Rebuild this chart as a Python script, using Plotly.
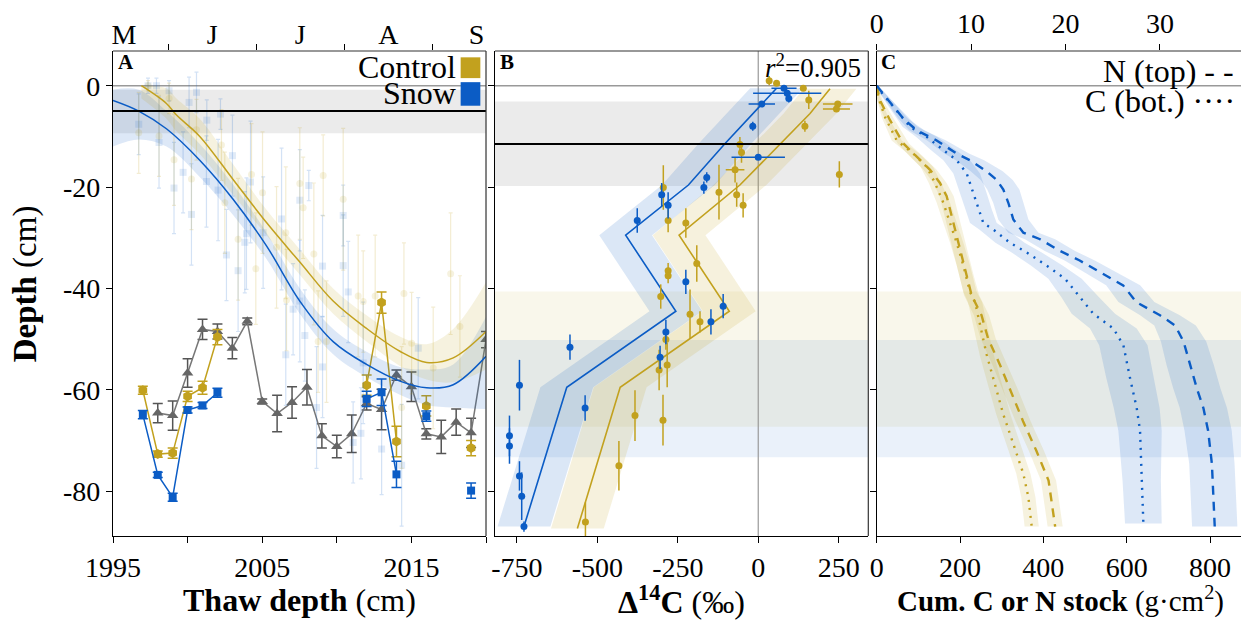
import plotly.graph_objects as go

# ---------------- colours ----------------
GOLD = "#C2A11E"
BLUE = "#0B5CC5"
GREY = "#666666"
FONT = "Liberation Serif"

# ---------------- Panel A : thaw depth time series (bottom axis, years) ----------------
ref_years = [1998, 1999, 2000, 2001, 2002, 2003, 2004, 2005, 2006, 2007, 2008, 2009,
             2010, 2011, 2012, 2013, 2014, 2015, 2016, 2017, 2018, 2019, 2020]
ref_depth = [-64.6, -65.1, -56.7, -48.1, -48.5, -51.8, -46.5, -62.3, -64.7, -62.5, -59.5, -69.1,
             -71.2, -68.7, -62.7, -63.9, -57.1, -59.4, -68.7, -69.3, -66.4, -68.5, -50.1]
ref_err = [1.9, 2.9, 2.8, 2.0, 1.5, 2.1, 0.65, 0.5, 3.6, 3.1, 3.5, 2.4,
           2.2, 3.7, 1.3, 4.0, 1.0, 2.9, 1.0, 3.3, 2.6, 2.9, 1.6]

ts_years = [1997, 1998, 1999, 2000, 2001, 2002, 2012, 2013, 2014, 2016, 2019]
ts_segment = [0, 0, 0, 0, 0, 0, 1, 1, 1, 2, 3]
ctrl_depth = [-60.1, -72.7, -72.5, -61.3, -59.6, -49.6, -59.1, -42.8, -70.2, -63.2, -71.5]
ctrl_err = [0.8, 0.6, 1.0, 1.0, 1.3, 1.5, 2.0, 2.1, 3.0, 2.0, 1.5]
snow_depth = [-64.9, -76.8, -81.2, -64.0, -63.1, -60.6, -61.8, -60.5, -76.7, -65.2, -79.9]
snow_err = [0.8, 0.5, 0.8, 0.6, 0.6, 0.9, 1.5, 2.6, 2.6, 1.0, 1.5]

# ---------------- Panel A : seasonal thaw (top axis, month number) ----------------
month_ticks = [6, 7, 8, 9]
month_label_pos = [5.5, 6.5, 7.5, 8.5, 9.5]
month_labels = ["M", "J", "J", "A", "S"]

ctrl_fit_month = [5.698, 5.982, 6.096, 6.360, 6.738, 7.117, 7.495, 7.873, 8.252, 8.630, 8.933, 9.235, 9.607]
ctrl_fit_depth = [0, -3.5, -5.8, -10.0, -18.5, -27.0, -34.8, -42.5, -47.9, -52.4, -54.6, -53.7, -48.5]
ctrl_fit_upper = [0, -0.5, -2.5, -6.5, -15.5, -24.5, -32.3, -40.0, -45.3, -49.5, -51.0, -48.0, -38.8]
ctrl_fit_lower = [-2.5, -6.5, -9.0, -13.5, -21.5, -29.5, -37.3, -45.0, -50.5, -55.3, -58.0, -58.5, -56.0]

snow_fit_month = [5.376, 5.668, 5.982, 6.360, 6.738, 7.117, 7.495, 7.873, 8.252, 8.630, 8.933, 9.235, 9.607]
snow_fit_depth = [-2.9, -5.0, -8.5, -14.7, -22.4, -31.6, -42.5, -50.5, -55.0, -58.3, -59.6, -59.0, -53.4]
snow_fit_upper = [-0.8, -0.8, -5.0, -11.5, -19.5, -29.0, -40.0, -48.0, -52.5, -55.5, -56.0, -55.0, -45.6]
snow_fit_lower = [-12.0, -10.6, -12.0, -18.0, -25.5, -34.2, -45.0, -53.0, -57.5, -61.0, -63.0, -63.5, -63.8]

snow_obs_month = [5.668, 5.773, 5.869, 5.898, 6.012, 6.068, 6.171, 6.239, 6.266, 6.323, 6.436, 6.44,
                  6.568, 6.595, 6.663, 6.731, 6.795, 6.871, 6.890, 6.936, 7.079, 7.288, 7.336, 7.419,
                  7.495, 7.495, 7.552, 7.597, 7.685, 7.753, 7.753, 7.987, 7.987, 8.044, 8.100, 8.188,
                  8.214, 8.423, 8.650, 8.838]
snow_obs_depth = [-7.6, 0, 0, -11.2, -1.0, -20.2, -17.1, -3.3, -25.4, -1.3, -18.9, -6.8,
                  -20.6, -5.6, -33.4, -13.8, -36.5, -30.9, -29.2, -19.0, -29.0, -26.3, -53.1, -44.1,
                  -22.6, -42.5, -49.3, -19.7, -63.5, -35.6, -55.5, -25.6, -35.5, -40.7, -70.4, -68.6,
                  -54.7, -71.7, -74.9, -51.8]
snow_obs_err = [6, 1.5, 1.5, 9, 2, 9, 8, 5, 10, 4, 9, 4,
                10, 3, 9, 8, 12, 10, 11, 12, 11, 14, 10, 9,
                10, 12, 9, 3, 12, 10, 10, 6, 10, 10, 8, 9,
                12, 9, 12, 10]

ctrl_obs_month = [5.668, 5.773, 5.898, 6.012, 6.068, 6.266, 6.323, 6.606, 6.644, 6.795, 6.947, 6.996,
                  7.072, 7.231, 7.336, 7.344, 7.495, 7.533, 7.654, 7.703, 7.760, 7.798, 7.987, 8.157,
                  8.214, 8.350, 8.650, 8.676, 8.763, 9.008, 9.206, 9.311]
ctrl_obs_depth = [-9.3, 0, -9.9, -2.5, -14.6, -18.4, -8.7, -11.7, -23.1, -30.3, -17.5, -36.1,
                  -21.1, -31.9, -29.0, -42.3, -19.3, -24.1, -33.2, -50.5, -17.7, -50.5, -22.4, -41.5,
                  -42.6, -41.5, -63.5, -41.0, -50.8, -55.7, -37.1, -47.5]
ctrl_obs_err = [8, 1, 8, 3, 9, 10, 6, 7, 10, 12, 10, 11,
                12, 12, 13, 10, 11, 10, 14, 10, 8, 12, 14, 12,
                10, 12, 12, 10, 10, 12, 12, 10]

# ---------------- Panel B : radiocarbon ----------------
b_snow_d14c = [80, 90, 95, 11, -17, 0, -160, -169, -300, -280, -376, -225,
               -109, -147, -287, -305, -585, -538, -742, -773, -773, -742, -735, -728]
b_snow_depth = [-0.5, -1.5, -2.5, -3.6, -8.0, -14.1, -18.1, -20.1, -21.5, -23.6, -26.6, -38.7,
                -43.5, -46.6, -48.6, -53.6, -51.6, -63.6, -59.1, -69.1, -71.1, -77.0, -81.0, -87.0]
b_snow_xerr = [39, 106, 0, 41, 0, 83, 0, 0, 0, 0, 0, 0,
               0, 0, 0, 0, 0, 0, 0, 0, 0, 0, 0, 0]
b_snow_yerr = [0.3, 0.3, 0.8, 0.3, 0.9, 0.5, 1.0, 1.2, 2.3, 2.6, 2.4, 2.4,
               2.4, 2.5, 2.4, 2.3, 2.5, 2.5, 5.0, 4.0, 3.5, 2.9, 4.7, 1.0]

b_ctrl_d14c = [34, 57, 140, 157, 247, 243, 145, -57, -52, -72, 252, -122, -67, -47, -295,
               -280, -225, -191, -280, -280, -303, -212, -181, -287, -283, -308, -383, -296, -433, -537]
b_ctrl_depth = [1.0, 0.5, -0.5, -2.8, -3.6, -4.6, -8.0, -11.6, -13.2, -16.6, -17.5, -21.0, -21.5, -23.6, -20.1,
                -26.6, -27.1, -35.1, -36.5, -37.5, -41.6, -45.1, -46.6, -50.1, -55.1, -56.1, -65.1, -66.0, -75.0, -86.1]
b_ctrl_xerr = [0, 0, 0, 0, 46, 42, 0, 0, 0, 29, 0, 0, 0, 0, 0,
               0, 0, 0, 0, 0, 0, 0, 0, 0, 0, 0, 0, 0, 0, 0]
b_ctrl_yerr = [0.9, 0.5, 0.5, 1.8, 0.3, 0.3, 1.1, 1.5, 2.0, 2.5, 2.6, 5.4, 2.4, 2.4, 4.4,
               2.3, 2.9, 3.6, 1.5, 1.5, 2.4, 4.9, 2.1, 2.0, 4.4, 4.0, 5.0, 5.0, 4.9, 3.9]

b_snow_fit_d14c = [57, -103, -217, -412, -256, -595, -728]
b_snow_fit_depth = [-0.5, -11.4, -19.6, -29.5, -44.5, -59.5, -87.0]
b_ctrl_fit_d14c = [223, 161, -57, -246, -90, -429, -562]
b_ctrl_fit_depth = [-0.6, -5.5, -19.6, -29.5, -44.5, -59.5, -87.4]
b_fit_halfwidth = 82
r2_text = "<i>r</i><sup>2</sup>=0.905"

# ---------------- Panel C : cumulative stocks ----------------
c_snow_depth = [0, -1, -8.1, -10.1, -12.7, -14.7, -17.3, -21.2, -24.4, -27.1, -28.4, -31.0,
                -32.9, -35.5, -38.1, -41.7, -45.0, -47.9, -51.2, -57.7, -63.6, -68.1, -77.9, -86.4]
c_snow = [0, 8, 80, 120, 160, 192, 216, 232, 244, 256, 280, 320,
          360, 408, 452, 488, 520, 568, 592, 608, 624, 632, 636, 640]
c_snow_hw = [2, 5, 18, 25, 30, 32, 32, 32, 32, 32, 33, 35,
             36, 38, 40, 45, 52, 56, 58, 57, 55, 52, 46, 44]

c_ctrl_depth = [0, -2.3, -6.2, -10.8, -13.4, -16.0, -19.2, -23.1, -27.1, -31.0, -35.5,
                -40.7, -42.7, -47.3, -53.1, -59.0, -64.9, -70.7, -76.6, -81.2, -87.0]
c_ctrl = [0, 4, 20, 48, 88, 120, 140, 160, 176, 192, 208,
          224, 236, 248, 264, 284, 304, 328, 352, 364, 372]
c_ctrl_hw = [2, 4, 8, 12, 14, 15, 15, 16, 16, 16, 16,
             16, 17, 17, 17, 17, 17, 17, 17, 17, 17]

n_snow_depth = [0, -6.5, -8.8, -10.8, -13.4, -14.7, -16.9, -18.6, -20.5, -23.1, -26.4, -29.0, -30.3,
                -32.6, -34.5, -36.8, -39.4, -42.7, -45.3, -47.3, -50.5, -55.1, -59.7, -63.6, -68.1, -74.6, -87.0]
n_snow = [0, 2.82, 4.24, 6.35, 8.47, 9.88, 11.65, 12.71, 13.41, 13.94, 14.47, 15.53, 17.3,
          19.41, 21.5, 23.65, 26.1, 27.5, 30.0, 31.6, 32.5, 33.2, 33.9, 34.6, 35.1, 35.5, 35.8]
n_snow_hw = [0.2, 0.5, 0.8, 1.0, 1.3, 1.5, 1.7, 1.7, 1.7, 1.6, 1.6, 1.6, 1.6,
             1.6, 1.6, 1.7, 1.8, 1.9, 2.1, 2.2, 2.4, 2.5, 2.5, 2.5, 2.5, 2.4, 2.4]

n_ctrl_depth = [0, -2.9, -6.8, -11.4, -14.0, -16.6, -19.2, -21.8, -25.7, -29.7, -33.6,
                -37.5, -41.4, -45.3, -49.9, -55.1, -59.7, -66.2, -72.0, -77.9, -84.4, -87.0]
n_ctrl = [0, 0.35, 1.41, 2.82, 4.24, 5.65, 6.7, 7.41, 7.94, 8.47, 9.0,
          9.53, 10.06, 11.1, 11.8, 13.06, 14.1, 15.5, 16.9, 18.2, 18.7, 18.9]
n_ctrl_hw = [0.1, 0.3, 0.5, 0.6, 0.7, 0.7, 0.7, 0.75, 0.75, 0.75, 0.75,
             0.75, 0.8, 0.8, 0.8, 0.8, 0.8, 0.8, 0.8, 0.8, 0.8, 0.8]

# depth bands
grey_band_A = (-9.4, -0.8)
grey_band_B = (-19.8, -3.1)
ctrl_band = (-67.3, -40.6)
snow_band = (-73.3, -50.2)
line_A = -5.0
line_B = -11.5


def rgba(hexcol, a):
    h = hexcol.lstrip("#")
    return "rgba(%d,%d,%d,%s)" % (int(h[0:2], 16), int(h[2:4], 16), int(h[4:6], 16), a)


fig = go.Figure()

# ================= Panel A =================
for m, lo, up, col in [(snow_fit_month, snow_fit_lower, snow_fit_upper, BLUE),
                       (ctrl_fit_month, ctrl_fit_lower, ctrl_fit_upper, GOLD)]:
    fig.add_trace(go.Scatter(x=m, y=lo, xaxis="x2", yaxis="y", mode="lines",
                             line=dict(width=0, shape="spline"), hoverinfo="skip", showlegend=False))
    fig.add_trace(go.Scatter(x=m, y=up, xaxis="x2", yaxis="y", mode="lines", fill="tonexty",
                             fillcolor=rgba(col, 0.14), line=dict(width=0, shape="spline"),
                             hoverinfo="skip", showlegend=False))

fig.add_trace(go.Scatter(x=snow_obs_month, y=snow_obs_depth, xaxis="x2", yaxis="y", mode="markers",
                         marker=dict(symbol="square", size=7, color=rgba(BLUE, 0.12)),
                         error_y=dict(type="data", array=snow_obs_err, color=rgba(BLUE, 0.18),
                                      thickness=1.2, width=2),
                         showlegend=False))
fig.add_trace(go.Scatter(x=ctrl_obs_month, y=ctrl_obs_depth, xaxis="x2", yaxis="y", mode="markers",
                         marker=dict(symbol="circle", size=7, color=rgba(GOLD, 0.14)),
                         error_y=dict(type="data", array=ctrl_obs_err, color=rgba(GOLD, 0.2),
                                      thickness=1.2, width=2),
                         showlegend=False))

fig.add_trace(go.Scatter(x=ctrl_fit_month, y=ctrl_fit_depth, xaxis="x2", yaxis="y", mode="lines",
                         line=dict(color=GOLD, width=1.5, shape="spline"), showlegend=False))
fig.add_trace(go.Scatter(x=snow_fit_month, y=snow_fit_depth, xaxis="x2", yaxis="y", mode="lines",
                         line=dict(color=BLUE, width=1.5, shape="spline"), showlegend=False))

fig.add_trace(go.Scatter(x=ref_years, y=ref_depth, xaxis="x", yaxis="y", mode="lines+markers",
                         line=dict(color="#777777", width=1.5),
                         marker=dict(symbol="triangle-up", size=10, color=GREY),
                         error_y=dict(type="data", array=ref_err, color="#555555", thickness=1.5, width=5),
                         showlegend=False))
for depth, err, col, sym, size in [(ctrl_depth, ctrl_err, GOLD, "hexagon", 10),
                                   (snow_depth, snow_err, BLUE, "square", 8)]:
    for seg in sorted(set(ts_segment)):
        idx = [i for i, s in enumerate(ts_segment) if s == seg]
        if len(idx) > 1:
            fig.add_trace(go.Scatter(x=[ts_years[i] for i in idx], y=[depth[i] for i in idx],
                                     xaxis="x", yaxis="y", mode="lines",
                                     line=dict(color=col, width=1.5), showlegend=False))
    fig.add_trace(go.Scatter(x=ts_years, y=depth, xaxis="x", yaxis="y", mode="markers",
                             marker=dict(symbol=sym, size=size, color=col),
                             error_y=dict(type="data", array=err, color=col, thickness=1.5, width=5),
                             showlegend=False))

# ================= Panel B =================
for xs, ds, col in [(b_ctrl_fit_d14c, b_ctrl_fit_depth, GOLD), (b_snow_fit_d14c, b_snow_fit_depth, BLUE)]:
    left = [x - b_fit_halfwidth for x in xs]
    right = [x + b_fit_halfwidth for x in xs]
    fig.add_trace(go.Scatter(x=left + right[::-1] + [left[0]], y=ds + ds[::-1] + [ds[0]],
                             xaxis="x3", yaxis="y2", mode="lines", fill="toself",
                             fillcolor=rgba(col, 0.15), line=dict(width=0),
                             hoverinfo="skip", showlegend=False))
for xs, ds, col in [(b_ctrl_fit_d14c, b_ctrl_fit_depth, GOLD), (b_snow_fit_d14c, b_snow_fit_depth, BLUE)]:
    fig.add_trace(go.Scatter(x=xs, y=ds, xaxis="x3", yaxis="y2", mode="lines",
                             line=dict(color=col, width=1.6), showlegend=False))
for xs, ds, xe, ye, col in [(b_ctrl_d14c, b_ctrl_depth, b_ctrl_xerr, b_ctrl_yerr, GOLD),
                            (b_snow_d14c, b_snow_depth, b_snow_xerr, b_snow_yerr, BLUE)]:
    fig.add_trace(go.Scatter(x=xs, y=ds, xaxis="x3", yaxis="y2", mode="markers",
                             marker=dict(symbol="circle", size=7, color=col),
                             error_x=dict(type="data", array=xe, color=col, thickness=1.5, width=0),
                             error_y=dict(type="data", array=ye, color=col, thickness=1.5, width=0),
                             showlegend=False))

# ================= Panel C =================
def add_stock(xs, ds, hw, col, xaxis, dash):
    left = [x - h for x, h in zip(xs, hw)]
    right = [x + h for x, h in zip(xs, hw)]
    fig.add_trace(go.Scatter(x=left + right[::-1], y=ds + ds[::-1], xaxis=xaxis, yaxis="y3",
                             mode="lines", fill="toself", fillcolor=rgba(col, 0.14),
                             line=dict(width=0), hoverinfo="skip", showlegend=False))
    fig.add_trace(go.Scatter(x=xs, y=ds, xaxis=xaxis, yaxis="y3", mode="lines",
                             line=dict(color=col, width=2.4, dash=dash), showlegend=False))

add_stock(c_ctrl, c_ctrl_depth, c_ctrl_hw, GOLD, "x4", "2px,6px")
add_stock(n_ctrl, n_ctrl_depth, n_ctrl_hw, GOLD, "x5", "9px,7px")
add_stock(c_snow, c_snow_depth, c_snow_hw, BLUE, "x4", "2px,6px")
add_stock(n_snow, n_snow_depth, n_snow_hw, BLUE, "x5", "9px,7px")

# ================= shapes =================
shapes = []
shapes.append(dict(type="rect", xref="x domain", yref="y", x0=0, x1=1, y0=grey_band_A[0], y1=grey_band_A[1],
                   fillcolor="#EBEBEB", line_width=0, layer="below"))
shapes.append(dict(type="rect", xref="x3 domain", yref="y2", x0=0, x1=1, y0=grey_band_B[0], y1=grey_band_B[1],
                   fillcolor="#EBEBEB", line_width=0, layer="below"))
for xr, yr in [("x3 domain", "y2"), ("x4 domain", "y3")]:
    shapes.append(dict(type="rect", xref=xr, yref=yr, x0=0, x1=1, y0=ctrl_band[0], y1=ctrl_band[1],
                       fillcolor=rgba(GOLD, 0.09), line_width=0, layer="below"))
    shapes.append(dict(type="rect", xref=xr, yref=yr, x0=0, x1=1, y0=snow_band[0], y1=snow_band[1],
                       fillcolor=rgba(BLUE, 0.085), line_width=0, layer="below"))
for xr, yr in [("x domain", "y"), ("x3 domain", "y2"), ("x4 domain", "y3")]:
    shapes.append(dict(type="line", xref=xr, yref=yr, x0=0, x1=1, y0=0, y1=0,
                       line=dict(color="#999999", width=1.5), layer="below"))
shapes.append(dict(type="line", xref="x3", yref="y2 domain", x0=0, x1=0, y0=0, y1=1,
                   line=dict(color="#999999", width=1.2), layer="below"))
shapes.append(dict(type="line", xref="x domain", yref="y", x0=0, x1=1, y0=line_A, y1=line_A,
                   line=dict(color="black", width=2)))
shapes.append(dict(type="line", xref="x3 domain", yref="y2", x0=0, x1=1, y0=line_B, y1=line_B,
                   line=dict(color="black", width=2)))
for xr, yr in [("x domain", "y domain"), ("x3 domain", "y2 domain")]:
    shapes.append(dict(type="line", xref=xr, yref=yr, x0=0, x1=1, y0=1, y1=1, line=dict(color="#333333", width=1.2)))
    shapes.append(dict(type="line", xref=xr, yref=yr, x0=1, x1=1, y0=0, y1=1, line=dict(color="#333333", width=1.2)))
shapes.append(dict(type="line", xref="x4 domain", yref="y3 domain", x0=0, x1=1, y0=1, y1=1,
                   line=dict(color="#333333", width=1.2)))
shapes.append(dict(type="rect", xref="x", yref="y", x0=2018.3, x1=2019.62, y0=1.5, y1=5.6,
                   fillcolor=GOLD, line_width=0))
shapes.append(dict(type="rect", xref="x", yref="y", x0=2018.3, x1=2019.62, y0=-3.95, y1=0.7,
                   fillcolor=BLUE, line_width=0))

# ================= annotations =================
ann = []
title_font = dict(family=FONT, size=32, color="black")
ann.append(dict(text="<b>Thaw depth</b> (cm)", xref="paper", yref="paper", x=0.1641, y=-0.131,
                showarrow=False, font=title_font, xanchor="center", yanchor="middle"))
ann.append(dict(text="<b>Δ<sup>14</sup>C</b> (‰)", xref="paper", yref="paper", x=0.5006, y=-0.131,
                showarrow=False, font=title_font, xanchor="center", yanchor="middle"))
ann.append(dict(text="<b>Cum. C or N stock</b> (g·cm<sup>2</sup>)", xref="paper", yref="paper", x=0.834,
                y=-0.131, showarrow=False, font=dict(family=FONT, size=29, color="black"),
                xanchor="center", yanchor="middle"))
ann.append(dict(text="<b>Depth</b> (cm)", xref="paper", yref="paper", x=-0.077, y=0.52, textangle=-90,
                showarrow=False, font=dict(family=FONT, size=33, color="black"),
                xanchor="center", yanchor="middle"))
letter_font = dict(family=FONT, size=21, color="black")
ann.append(dict(text="<b>A</b>", xref="x", yref="y", x=1995.2, y=4.6, showarrow=False, font=letter_font,
                xanchor="left", yanchor="middle"))
ann.append(dict(text="<b>B</b>", xref="x3", yref="y2", x=-808, y=4.6, showarrow=False, font=letter_font,
                xanchor="left", yanchor="middle"))
ann.append(dict(text="<b>C</b>", xref="x4", yref="y3", x=6, y=4.6, showarrow=False, font=letter_font,
                xanchor="left", yanchor="middle"))
leg_font = dict(family=FONT, size=32, color="black")
ann.append(dict(text="Control", xref="x", yref="y", x=2018.15, y=3.6, showarrow=False, font=leg_font,
                xanchor="right", yanchor="middle"))
ann.append(dict(text="Snow", xref="x", yref="y", x=2018.15, y=-1.5, showarrow=False, font=leg_font,
                xanchor="right", yanchor="middle"))
ann.append(dict(text=r2_text, xref="x3", yref="y2", x=326, y=3.9, showarrow=False,
                font=dict(family=FONT, size=27, color="black"), xanchor="right", yanchor="middle"))
ann.append(dict(text="N (top) - -", xref="x4", yref="y3", x=862, y=2.9, showarrow=False, font=leg_font,
                xanchor="right", yanchor="middle"))
ann.append(dict(text="C (bot.) ····", xref="x4", yref="y3", x=864, y=-3.0, showarrow=False, font=leg_font,
                xanchor="right", yanchor="middle"))

tick_font = dict(family=FONT, size=28, color="black")
common_x = dict(showgrid=False, zeroline=False, ticks="outside", ticklen=6, tickcolor="black",
                tickfont=tick_font, showline=True, linecolor="black", linewidth=1.2)
y_vals = [0, -20, -40, -60, -80]
y_text = ["0", "-20", "-40", "-60", "-80"]
y_range = [-88.86, 6.85]
common_y = dict(showgrid=False, zeroline=False, ticks="outside", ticklen=6, tickcolor="black",
                tickfont=tick_font, showline=True, linecolor="black", linewidth=1.2,
                range=y_range, tickvals=y_vals, ticktext=y_text)

year_ticks = [1995, 2005, 2015]
year_minor_ticks = [2000, 2010, 2020]
d14c_ticks = [-750, -500, -250, 0, 250]
d14c_text = ["-750", "-500", "-250", "0", "250"]
c_ticks = [0, 200, 400, 600, 800]
n_ticks = [0, 10, 20, 30]

# the page body adds an 8px offset, so the figure is 8px smaller and margins compensate
fig.update_layout(
    width=1241, height=615,
    margin=dict(l=105, r=0, t=39, b=87),
    paper_bgcolor="white", plot_bgcolor="white",
    font=dict(family=FONT, color="black"),
    showlegend=False,
    xaxis=dict(common_x, domain=[0, 0.32835], range=[1995, 2020], tickvals=year_ticks,
               ticktext=[str(v) for v in year_ticks], anchor="y",
               minor=dict(tickvals=year_minor_ticks, ticks="outside", ticklen=6, tickcolor="black")),
    xaxis2=dict(showgrid=False, zeroline=False, overlaying="x", side="top", anchor="y",
                range=[5.376, 9.607], tickvals=month_label_pos, ticktext=month_labels, ticks="",
                tickfont=tick_font, showline=False,
                minor=dict(tickvals=month_ticks, ticks="outside", ticklen=6, tickcolor="black")),
    xaxis3=dict(common_x, domain=[0.33627, 0.66488], range=[-818, 342], tickvals=d14c_ticks,
                ticktext=d14c_text, anchor="y2"),
    xaxis4=dict(common_x, domain=[0.67227, 1.0], range=[0, 893.5], tickvals=c_ticks, anchor="y3"),
    xaxis5=dict(showgrid=False, zeroline=False, overlaying="x4", side="top", anchor="y3",
                range=[0, 39.43], tickvals=n_ticks, ticks="outside", ticklen=6, tickcolor="black",
                tickfont=tick_font, showline=False),
    yaxis=dict(common_y, domain=[0, 1], anchor="x"),
    yaxis2=dict(common_y, domain=[0, 1], anchor="x3", matches="y", showticklabels=False),
    yaxis3=dict(common_y, domain=[0, 1], anchor="x4", matches="y", showticklabels=False),
    shapes=shapes,
    annotations=ann,
)

fig.write_html("out.html")
